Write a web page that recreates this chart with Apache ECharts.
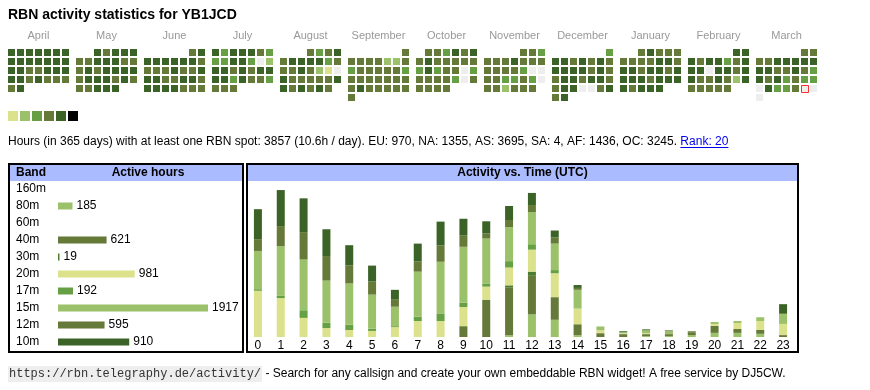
<!DOCTYPE html>
<html><head><meta charset="utf-8">
<script src="https://cdn.jsdelivr.net/npm/echarts@6/dist/echarts.min.js"></script>
<style>html,body{margin:0;padding:0;background:#fff}#c{width:870px;height:390px}</style>
</head><body><div id="c"></div><script>
const FONT = "'Liberation Sans', Arial, sans-serif";
const titleText = 'RBN activity statistics for YB1JCD';
const monthNames = ['April','May','June','July','August','September','October','November','December','January','February','March'];
const monthKeys = ['2024-04','2024-05','2024-06','2024-07','2024-08','2024-09','2024-10','2024-11','2024-12','2025-01','2025-02','2025-03'];
// activity level per day (0 = none, 1..5 = increasing)
const apr = [5,5,5,5,5,5,5, 5,5,5,5,5,5,5, 5,5,4,4,5,5,5, 5,5,4,5,4,4,4, 4,5];
const may = [5,4,5,5,5, 4,4,5,5,5,4,4, 4,5,4,5,5,5,5, 4,5,5,5,4,5,4, 4,4,5,5,5];
const jun = [4,5, 5,5,5,5,5,5,4, 4,4,4,5,4,4,5, 5,5,4,4,5,5,4, 5,5,5,5,4,4,4];
const jul = [5,3,5,5,5,4,3, 3,3,5,5,3,0,2, 5,5,4,5,4,5,5, 5,5,3,5,4,4,3, 4,4,4];
const aug = [4,3,4,5, 4,5,5,5,5,3,4, 4,4,5,4,2,1,0, 5,4,4,4,4,4,5, 5,4,5,4,5,4];
const sep = [4, 4,4,4,4,2,2,4, 3,4,4,4,4,4,3, 4,4,4,4,4,4,4, 4,5,4,4,4,4,4, 4];
const oct = [4,4,3,5,4,5, 4,5,4,4,4,4,4, 3,5,3,4,4,0,3, 4,4,4,4,3,0,4, 4,4,4,4];
const nov = [4,4,3, 4,4,4,5,4,4,4, 4,4,4,4,3,0,0, 4,4,3,3,4,3,0, 4,4,2,4,4,4];
const dec = [3, 5,5,4,5,4,5,4, 5,5,5,5,4,5,4, 4,5,5,4,5,5,4, 4,5,5,0,0,4,5, 4,5];
const jan = [4,5,4,4,4, 4,4,4,4,5,5,4, 5,5,4,5,5,4,5, 5,5,5,4,5,5,5, 5,4,5,5,5];
const feb = [5,5, 5,4,5,5,3,4,5, 5,5,0,5,5,4,5, 5,4,4,5,4,2,5, 4,4,4,4,4];
const mar = [4,4, 4,4,5,5,5,5,5, 5,5,4,4,5,4,3, 5,4,5,3,4,3,3, 0,5,3,3,4,0,0, 0];
const monthLevels = [apr,may,jun,jul,aug,sep,oct,nov,dec,jan,feb,mar];
const todayDate = '2025-03-29';
const levelValues = [1,2,3,4,5,6];
const levelColors = ['#dce28c','#9bc16a','#67a044','#657939','#3b6327','#000000'];

const statsText = 'Hours (in 365 days) with at least one RBN spot: 3857 (10.6h / day). EU: 970, NA: 1355, AS: 3695, SA: 4, AF: 1436, OC: 3245. ';
const rankText = 'Rank: 20';
const footerUrl = 'https://rbn.telegraphy.de/activity/';
const footerText = ' - Search for any callsign and create your own embeddable RBN widget! A free service by DJ5CW.';

const bands = ['160m','80m','60m','40m','30m','20m','17m','15m','12m','10m'];
const bandHours = ['-',185,'-',621,19,981,192,1917,595,910];
const bandColors = ['#9bc16a','#9bc16a','#657939','#657939','#4a7b31','#dce28c','#67a044','#9bc16a','#657939','#3b6327'];

const hours = ['0','1','2','3','4','5','6','7','8','9','10','11','12','13','14','15','16','17','18','19','20','21','22','23'];
const h80m = [0,0,0,0,0,0,0,0,0,0,0,6,71,54,6,0,0,3,3,6,13,13,10,0];
const h40m = [0,0,0,0,0,0,0,0,0,34,117,150,121,71,34,12,9,6,6,9,22,12,12,6];
const h30m = [0,0,0,0,0,0,0,0,0,0,0,6,13,0,0,0,0,0,0,0,0,0,0,0];
const h20m = [145,122,60,28,22,19,31,50,50,60,41,56,69,75,50,9,3,3,0,0,6,19,28,35];
const h17m = [5,7,24,17,17,7,3,14,24,14,10,20,17,10,3,0,0,0,0,0,0,0,0,0];
const h15m = [120,156,159,132,129,107,61,141,162,175,141,107,101,83,55,12,3,9,9,0,6,6,12,31];
const h12m = [37,63,86,77,57,41,22,32,51,35,16,22,22,19,6,0,0,0,3,3,0,0,0,3];
const h10m = [94,113,106,84,63,50,31,56,75,53,38,44,38,22,9,0,3,3,0,0,0,0,0,28];
const stackBands = ['80m','40m','30m','20m','17m','15m','12m','10m'];
const stackData = [h80m,h40m,h30m,h20m,h17m,h15m,h12m,h10m];

const ctx = document.createElement('canvas').getContext('2d');
function tw(t, font){ ctx.font = font; return ctx.measureText(t).width; }

const chart = echarts.init(document.getElementById('c'), null, {renderer:'canvas'});
const pad = n => (n < 10 ? '0' : '') + n;

const calendars = monthKeys.map((k, i) => ({
  orient: 'vertical', range: k, left: 7 + i * 68, top: 48, cellSize: [9, 9],
  splitLine: {show: false}, itemStyle: {color: 'transparent', borderWidth: 0},
  dayLabel: {show: false, firstDay: 1}, monthLabel: {show: false}, yearLabel: {show: false}, silent: true
}));
const calSeries = monthKeys.map((k, i) => ({
  type: 'heatmap', coordinateSystem: 'calendar', calendarIndex: i, silent: true,
  itemStyle: {borderColor: '#fff', borderWidth: 2},
  data: monthLevels[i].map((v, d) => [k + '-' + pad(d + 1), v])
}));
const todayIdx = monthKeys.indexOf(todayDate.slice(0, 7));
const todaySeries = {
  type: 'scatter', coordinateSystem: 'calendar', calendarIndex: todayIdx, silent: true, z: 5,
  symbol: 'rect', symbolSize: 7, symbolOffset: [0.5, 0.5],
  itemStyle: {color: '#eeeeee', borderColor: '#ff0000', borderWidth: 1},
  data: [[todayDate, 0]]
};

const statsFont = '12px "Liberation Sans"';
const statsW = tw(statsText, statsFont);
const rankW = tw(rankText, statsFont);
const monoFont = '12px "Liberation Mono"';
const monoW = tw(footerUrl, monoFont);

const graphics = [
  {type: 'text', x: 8, y: 15, style: {text: titleText, font: 'bold 14px ' + FONT, fill: '#000', align: 'left', verticalAlign: 'middle'}},
  ...monthNames.map((m, i) => ({type: 'text', x: 7 + i * 68 + 31.5, y: 35.5,
    style: {text: m, font: '11px ' + FONT, fill: '#999999', align: 'center', verticalAlign: 'middle'}})),
  {type: 'text', x: 8, y: 142, style: {text: statsText, font: '12px ' + FONT, fill: '#000', align: 'left', verticalAlign: 'middle'}},
  {type: 'text', x: 8 + statsW, y: 142, style: {text: rankText, font: '12px ' + FONT, fill: '#0000ee', align: 'left', verticalAlign: 'middle'}},
  {type: 'line', shape: {x1: 8 + statsW, y1: 147.5, x2: 8 + statsW + rankW, y2: 147.5}, style: {stroke: '#0000ee', lineWidth: 1}},
  // boxes
  {type: 'rect', shape: {x: 10, y: 165, width: 232, height: 16}, style: {fill: '#aabbff'}},
  {type: 'rect', shape: {x: 248, y: 165, width: 549, height: 16}, style: {fill: '#aabbff'}},
  {type: 'rect', shape: {x: 9, y: 164, width: 234, height: 188}, style: {fill: 'none', stroke: '#000', lineWidth: 2}},
  {type: 'rect', shape: {x: 247, y: 164, width: 551, height: 188}, style: {fill: 'none', stroke: '#000', lineWidth: 2}},
  {type: 'text', x: 16, y: 173, style: {text: 'Band', font: 'bold 12px ' + FONT, fill: '#000', align: 'left', verticalAlign: 'middle'}},
  {type: 'text', x: 148, y: 173, style: {text: 'Active hours', font: 'bold 12px ' + FONT, fill: '#000', align: 'center', verticalAlign: 'middle'}},
  {type: 'text', x: 522.5, y: 173, style: {text: 'Activity vs. Time (UTC)', font: 'bold 12px ' + FONT, fill: '#000', align: 'center', verticalAlign: 'middle'}},
  // footer
  {type: 'text', x: 8, y: 374, style: {text: footerUrl, font: monoFont, fill: '#333', align: 'left', verticalAlign: 'middle', backgroundColor: '#eeeeee', padding: [2, 1, 2, 1]}},
  {type: 'text', x: 10 + monoW, y: 374, style: {text: footerText, font: '12px ' + FONT, fill: '#000', align: 'left', verticalAlign: 'middle'}}
];

const option = {
  animation: false,
  calendar: calendars,
  visualMap: {
    type: 'piecewise', seriesIndex: monthKeys.map((k, i) => i),
    pieces: levelValues.map((v, i) => ({value: v, color: levelColors[i]})),
    outOfRange: {color: '#eeeeee'},
    orient: 'horizontal', left: 8, top: 111, padding: 0,
    itemWidth: 10, itemHeight: 10, itemGap: 2, itemSymbol: 'rect', showLabel: false, selectedMode: false
  },
  grid: [
    {left: 58, top: 180.5, width: 150, height: 170},
    {left: 246.5, top: 184, width: 548, height: 153}
  ],
  xAxis: [
    {gridIndex: 0, type: 'value', min: 0, max: Math.max(...bandHours.filter(v => typeof v === 'number')), show: false},
    {gridIndex: 1, type: 'category', data: hours, axisLine: {show: false}, axisTick: {show: false},
      axisLabel: {color: '#000', fontSize: 12, fontFamily: FONT, margin: 3}}
  ],
  yAxis: [
    {gridIndex: 0, type: 'category', data: bands, inverse: true, axisLine: {show: false}, axisTick: {show: false},
      axisLabel: {align: 'left', margin: 42, color: '#000', fontSize: 12, fontFamily: FONT}},
    {gridIndex: 1, type: 'value', min: 0, max: 480, show: false, splitLine: {show: false}}
  ],
  graphic: graphics,
  series: [
    ...calSeries,
    todaySeries,
    {type: 'bar', xAxisIndex: 0, yAxisIndex: 0, barWidth: 7, silent: true,
      data: bandHours.map((v, i) => ({value: v, itemStyle: {color: bandColors[i]}})),
      label: {show: true, position: 'right', distance: 4, color: '#000', fontSize: 12, fontFamily: FONT}},
    ...stackBands.map((b, i) => ({
      type: 'bar', name: b, stack: 'hours', xAxisIndex: 1, yAxisIndex: 1, barWidth: 8, silent: true,
      itemStyle: {color: bandColors[bands.indexOf(b)]}, data: stackData[i]
    }))
  ]
};
chart.setOption(option);
</script></body></html>
